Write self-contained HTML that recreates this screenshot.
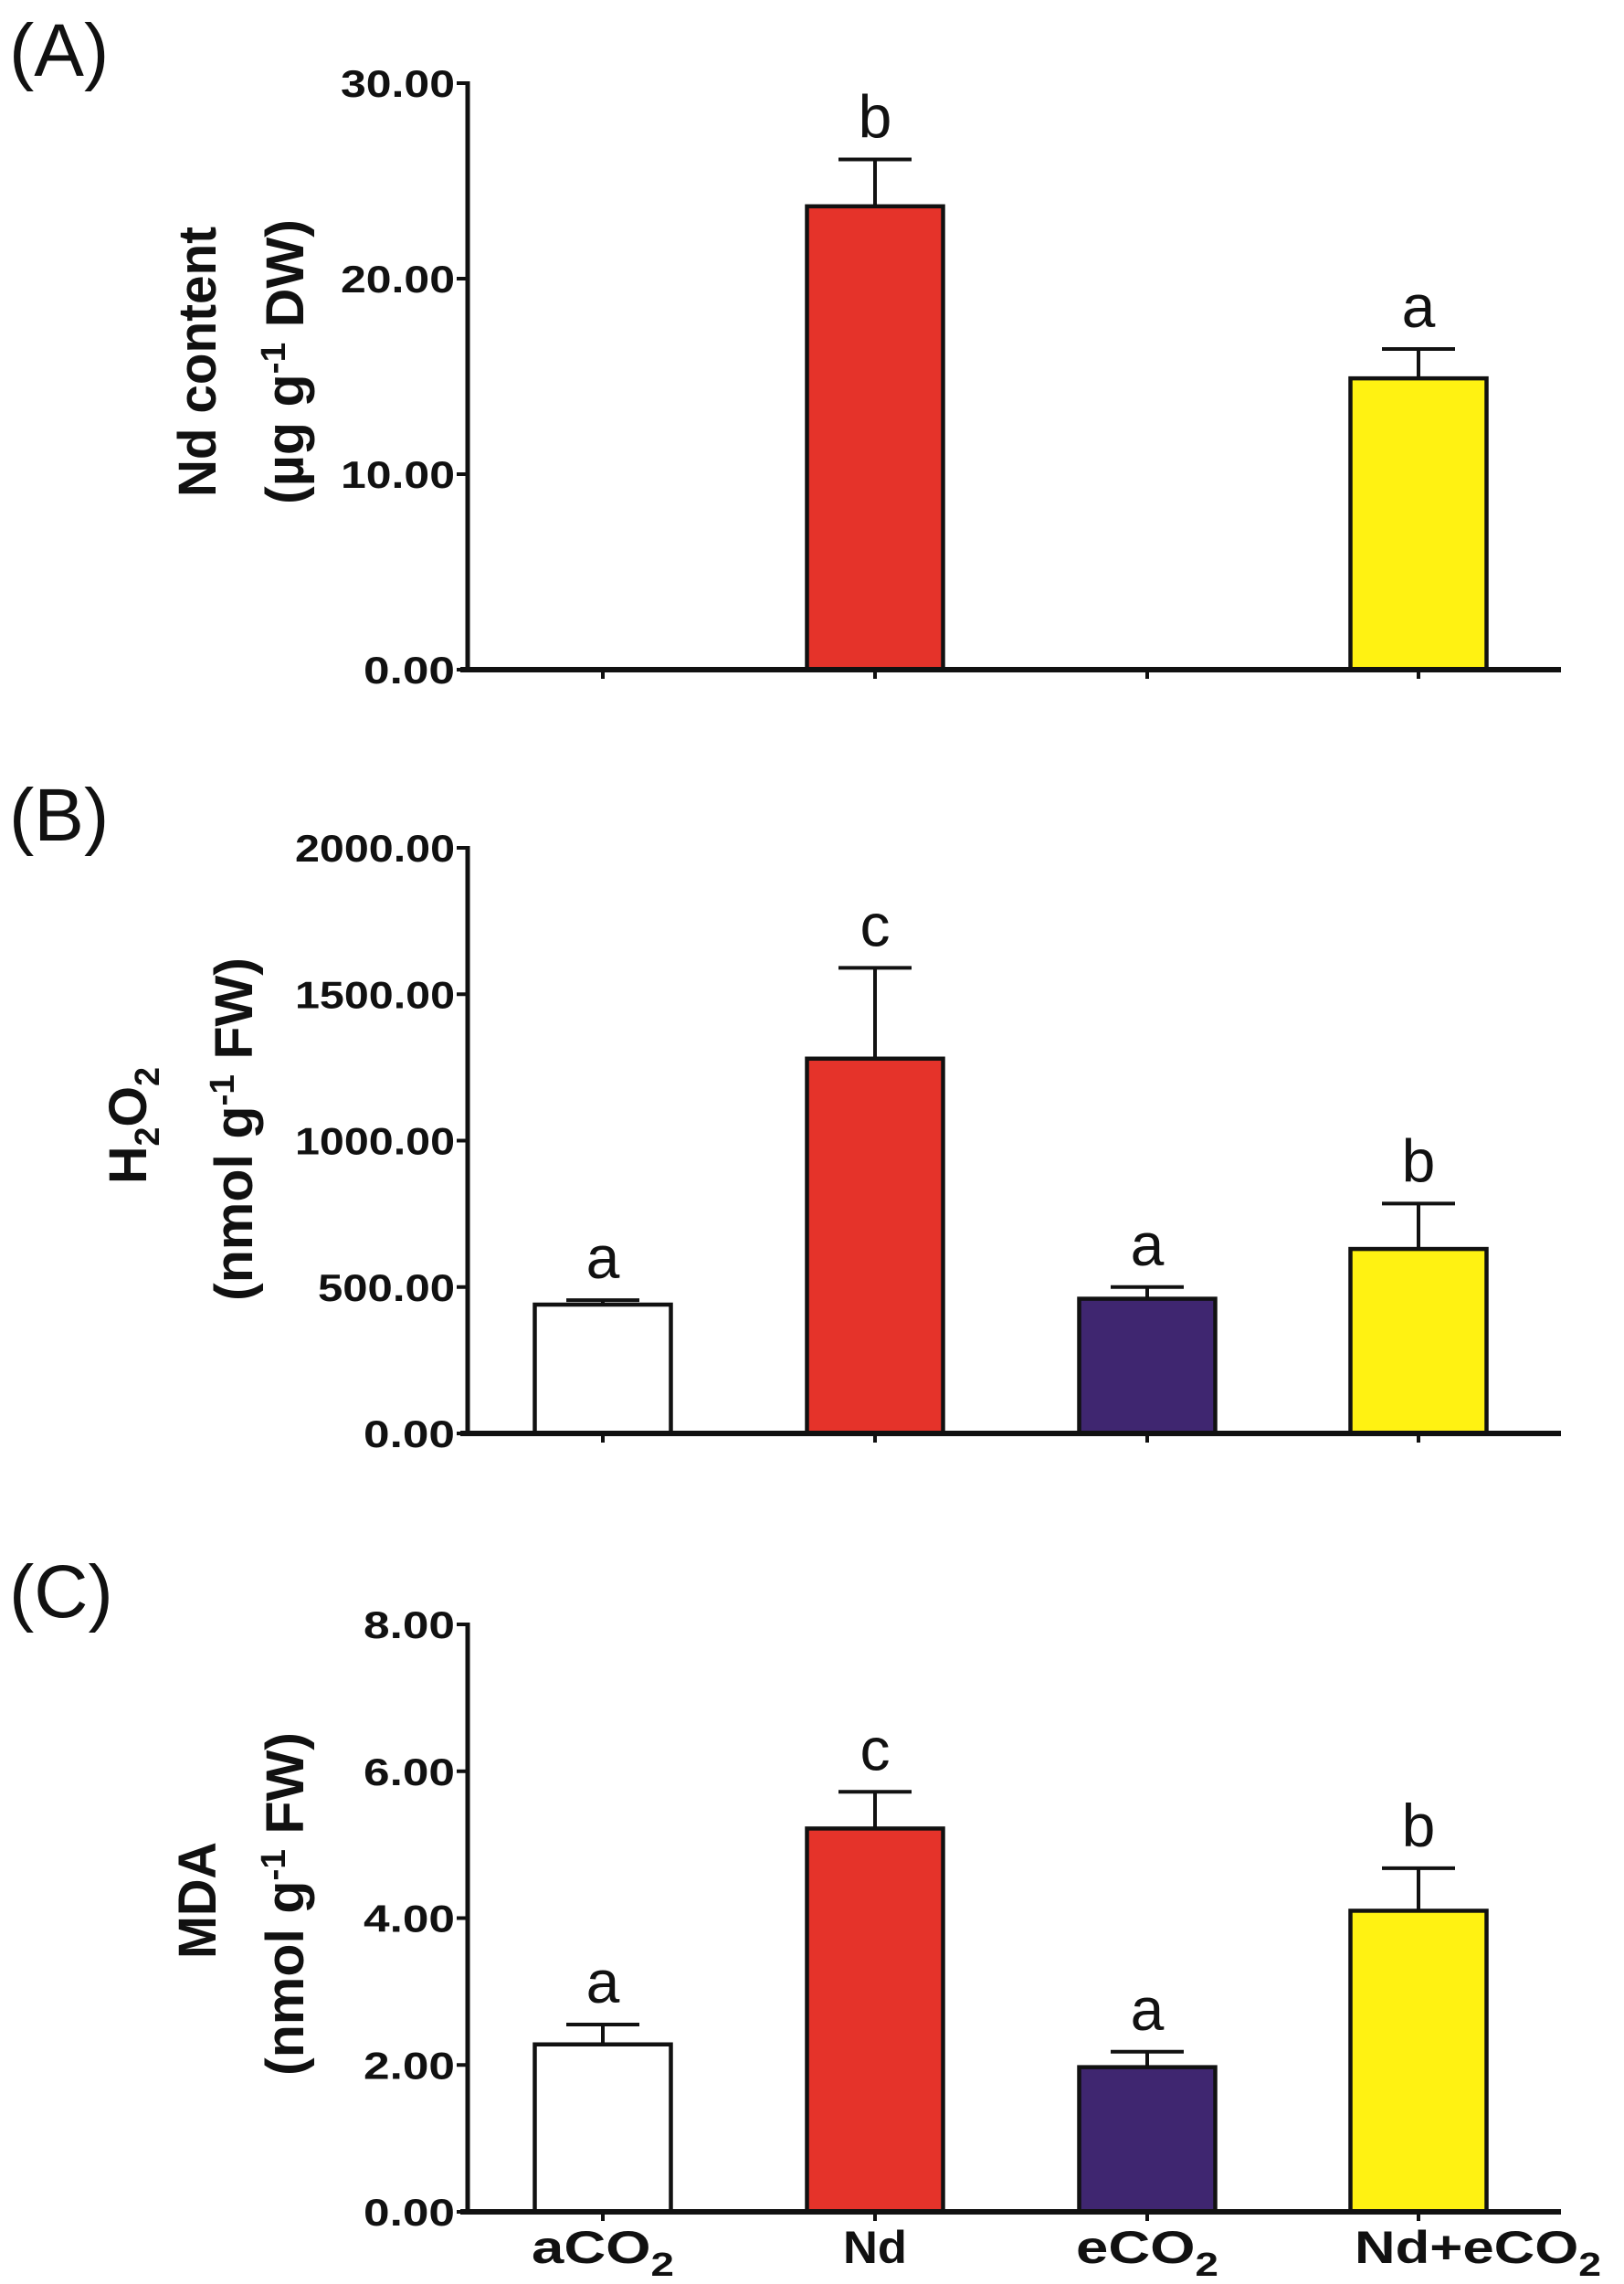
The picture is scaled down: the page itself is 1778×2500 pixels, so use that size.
<!DOCTYPE html>
<html><head><meta charset="utf-8"><style>
html,body{margin:0;padding:0;background:#fff;}
svg{display:block;font-family:"Liberation Sans",sans-serif;}
</style></head><body>
<svg id="fig" width="1778" height="2500" viewBox="0 0 1778 2500"></svg>
<script>
const categories = ["aCO2","Nd","eCO2","Nd+eCO2"];
const colors = ["#ffffff","#e5332a","#3f2670","#fff212"];
const ndValues = [0, 23.7, 0, 14.9];
const ndErrors = [0, 2.4, 0, 1.5];
const ndLetters = ["", "b", "", "a"];
const ndTicks = ["0.00","10.00","20.00","30.00"];
const h2o2Values = [440, 1280, 460, 630];
const h2o2Errors = [15, 310, 40, 155];
const h2o2Letters = ["a","c","a","b"];
const h2o2Ticks = ["0.00","500.00","1000.00","1500.00","2000.00"];
const mdaValues = [2.28, 5.22, 1.97, 4.1];
const mdaErrors = [0.27, 0.5, 0.21, 0.58];
const mdaLetters = ["a","c","a","b"];
const mdaTicks = ["0.00","2.00","4.00","6.00","8.00"];

const NS = "http://www.w3.org/2000/svg";
const svg = document.getElementById("fig");
function mk(tag, attrs, parent, text){
  const e = document.createElementNS(NS, tag);
  for (const k in attrs) e.setAttribute(k, attrs[k]);
  if (text !== undefined) e.textContent = text;
  (parent || svg).appendChild(e);
  return e;
}
const X0 = 512, X1 = 1709;
const centers = [660, 958, 1256, 1553];
const BW = 149;
function xPos(i){ return centers[i]; }

function panel(id, label, top, bottom, ticks, values, errors, letters, showBars, titleLines, titleSpec){
  const g = mk("g", {});
  
  
  const maxV = parseFloat(ticks[ticks.length-1]);
  const y = v => bottom - (v / maxV) * (bottom - top);
  const lab = mk("text", {x: 10, y: top - 8, "font-size": 82, fill: "#111"}, g, label);
  
  
  values.forEach((v, i) => {
    if (!showBars[i]) return;
    const cx = xPos(i);
    const yt = y(v), ye = y(v + errors[i]);
    const eb = mk("path", {d: `M${cx} ${yt} V${ye} M${cx-40} ${ye} H${cx+40}`, stroke: "#111", "stroke-width": 4, fill: "none"}, g);
    
    
    const r = mk("rect", {x: cx - BW/2, y: yt, width: BW, height: bottom - yt, fill: colors[i], stroke: "#111", "stroke-width": 4.5}, g);
    
    
    if (letters[i]) {
      const t = mk("text", {x: cx, y: ye - 24, "font-size": 66, "text-anchor": "middle", fill: "#111"}, g, letters[i]);
      
      
    }
  });
  const ya = mk("line", {x1: X0, y1: top - 2, x2: X0, y2: bottom + 2, stroke: "#111", "stroke-width": 5}, g);
  
  
  const xa = mk("line", {x1: X0 - 8, y1: bottom, x2: X1, y2: bottom, stroke: "#111", "stroke-width": 6}, g);
  
  
  ticks.forEach((t) => {
    const ty = y(parseFloat(t));
    mk("line", {x1: X0 - 12, y1: ty, x2: X0, y2: ty, stroke: "#111", "stroke-width": 4}, g);
    const tl = mk("text", {x: X0 - 14, y: ty + 15, "font-size": 42, "font-weight": "bold", "text-anchor": "end", fill: "#111",
      textLength: t.length * 25, lengthAdjust: "spacingAndGlyphs"}, g, t);
    
    
  });
  centers.forEach(cx => mk("line", {x1: cx, y1: bottom, x2: cx, y2: bottom + 10, stroke: "#111", "stroke-width": 4}, g));
  titleLines.forEach((ln, k) => {
    const s = titleSpec[k];
    const t = mk("text", {x: 0, y: 0, "font-size": 58, "font-weight": "bold", "text-anchor": "middle", fill: "#111",
      transform: `translate(${s.x},${s.cy}) rotate(-90)`, textLength: s.len, lengthAdjust: "spacingAndGlyphs"}, g);
    t.innerHTML = ln;
    
    
  });
}

panel("nd-content", "(A)", 91, 733, ndTicks, ndValues, ndErrors, ndLetters, [false,true,false,true],
  ["Nd content", '(<tspan>µg g</tspan><tspan dy="-20" font-size="38">-1</tspan><tspan dy="20"> DW)</tspan>'],
  [{x: 236, cy: 396, len: 296}, {x: 332, cy: 396, len: 312}]);
panel("h2o2", "(B)", 928, 1569, h2o2Ticks, h2o2Values, h2o2Errors, h2o2Letters, [true,true,true,true],
  ['H<tspan dy="14" font-size="38">2</tspan><tspan dy="-14">O</tspan><tspan dy="14" font-size="38">2</tspan>', '(nmol g<tspan dy="-20" font-size="38">-1</tspan><tspan dy="20"> FW)</tspan>'],
  [{x: 160, cy: 1232, len: 128}, {x: 276, cy: 1236, len: 376}]);
panel("mda", "(C)", 1778, 2421, mdaTicks, mdaValues, mdaErrors, mdaLetters, [true,true,true,true],
  ["MDA", '(nmol g<tspan dy="-20" font-size="38">-1</tspan><tspan dy="20"> FW)</tspan>'],
  [{x: 236, cy: 2080, len: 128}, {x: 332, cy: 2084, len: 376}]);

const xlabHtml = ['aCO<tspan dy="14" font-size="36">2</tspan>', 'Nd', 'eCO<tspan dy="14" font-size="36">2</tspan>', 'Nd+eCO<tspan dy="14" font-size="36">2</tspan>'];
const xlabLen = [156, 70, 156, 270];
categories.forEach((c, i) => {
  const t = mk("text", {x: (i===3 ? 1618 : xPos(i)), y: 2477, "font-size": 50, "font-weight": "bold", "text-anchor": "middle", fill: "#111",
    textLength: xlabLen[i], lengthAdjust: "spacingAndGlyphs"});
  t.innerHTML = xlabHtml[i];
  
  
});
</script>
</body></html>
